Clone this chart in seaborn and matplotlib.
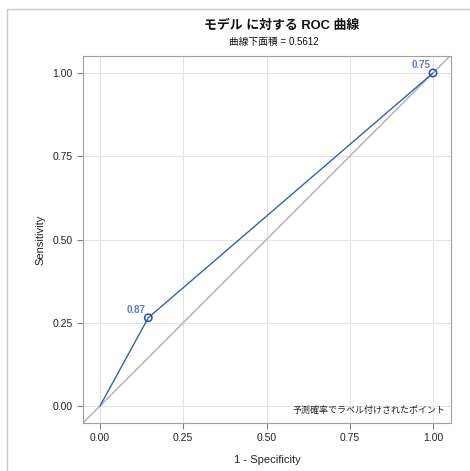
import matplotlib
matplotlib.use("Agg")
import matplotlib.pyplot as plt
import seaborn as sns
import pandas as pd
from matplotlib.patches import Rectangle

# ROC points (1 - specificity, sensitivity) and predicted-probability labels
fpr = [0.0, 0.145, 1.0]
tpr = [0.0, 0.265, 1.0]
point_labels = ["", "0.87", "0.75"]
ticks = [0.0, 0.25, 0.5, 0.75, 1.0]
tick_labels = ["0.00", "0.25", "0.50", "0.75", "1.00"]
auc = 0.5612

sns.set_theme(style="white")
plt.rcParams['font.family'] = ['Liberation Sans', 'Noto Sans CJK JP']

df = pd.DataFrame({"fpr": fpr, "tpr": tpr, "label": point_labels})

fig = plt.figure(figsize=(4.70, 4.71), dpi=100)
ax = fig.add_axes([83 / 470, 1 - 423 / 471, (451 - 83) / 470, (423 - 56) / 471])

# outer frame
fig.patches.append(Rectangle((7 / 470, -0.1), 1.2, 1 - 9 / 471 + 0.1,
                             transform=fig.transFigure, fill=False,
                             edgecolor="#c8c8c8", linewidth=1))

ax.set_xlim(-0.051, 1.054)
ax.set_ylim(-0.051, 1.051)
ax.plot([-0.1, 1.2], [-0.1, 1.2], color="#b4b4b4", linewidth=1.1, zorder=1)

sns.lineplot(data=df, x="fpr", y="tpr", ax=ax, color="#3b5fb5",
             linewidth=1.0, sort=False, zorder=3)
labeled = df[df["label"] != ""]
sns.scatterplot(data=labeled, x="fpr", y="tpr", ax=ax, marker="o", s=28,
                facecolor="none", edgecolor="#2a4aa8", linewidth=1.1, zorder=4)
for _, row in labeled.iterrows():
    ax.annotate(row["label"], (row["fpr"], row["tpr"]), xytext=(-2, 2),
                textcoords="offset points", ha="right", va="bottom",
                fontsize=7, color="#5a7ac8", fontweight="bold")

ax.set_xticks(ticks)
ax.set_xticklabels(tick_labels)
ax.set_yticks(ticks)
ax.set_yticklabels(tick_labels)
ax.grid(True, color="#e4e4e4", linewidth=0.8)
ax.set_axisbelow(True)
ax.tick_params(axis="both", which="both", length=4, width=0.8, color="#808080",
               labelsize=7.5, labelcolor="#222222", direction="out",
               bottom=True, left=True)
for sp in ax.spines.values():
    sp.set_color("#a0a0a0")
    sp.set_linewidth(0.8)

ax.set_xlabel("1 - Specificity", fontsize=8, color="#222222", labelpad=8)
ax.set_ylabel("Sensitivity", fontsize=8, color="#222222", labelpad=5)

ax.text(0.985, 0.022, "予測確率でラベル付けされたポイント", transform=ax.transAxes,
        ha="right", va="bottom", fontsize=6.5, color="#222222")

fig.text(282 / 470, 1 - 26 / 471, "モデル に対する ROC 曲線", ha="center",
         va="center", fontsize=9.3, fontweight="bold", color="#111111")
fig.text(274 / 470, 1 - 42 / 471, "曲線下面積 = {:.4f}".format(auc), ha="center",
         va="center", fontsize=7, color="#111111")

fig.savefig("out.png", dpi=100)
